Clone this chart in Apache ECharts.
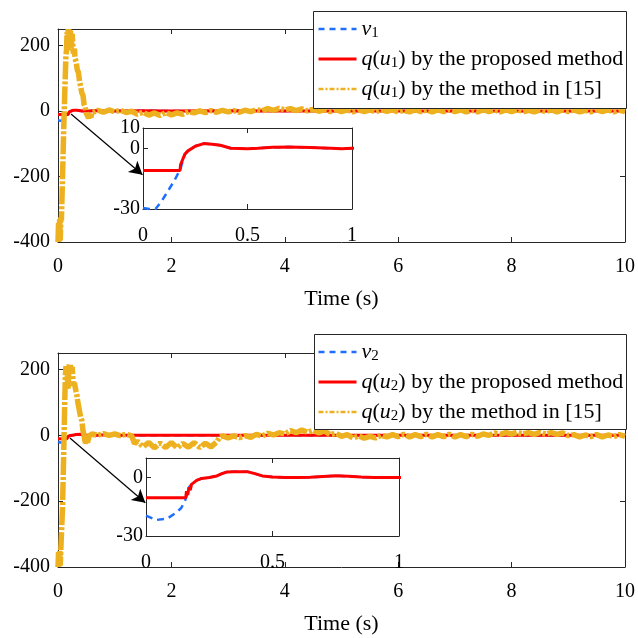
<!DOCTYPE html>
<html>
<head>
<meta charset="utf-8">
<script src="https://cdn.jsdelivr.net/npm/echarts@6/dist/echarts.min.js"></script>
<style>html,body{margin:0;padding:0;background:#fff}#c{width:638px;height:638px}</style>
</head>
<body>
<div id="c"></div>
<script>
// ---------------- data ([time, value]) ----------------
const V1 = [[0,-29.5],[0.03,-30],[0.06,-30],[0.09,-26],[0.12,-21],[0.15,-16],[0.18,-10],[0.2,-3],[0.215,-1.3],[0.25,1],[0.29,2.3],[0.33,2],[0.37,1.5],[0.42,0],[0.5,-0.3],[0.55,0],[0.62,0.5],[0.7,0.6],[0.8,0.4],[0.9,0],[0.95,-0.2],[1,0],[1.5,0.3],[2,0],[3,0.2],[4,-0.1],[5,0.1],[6,0],[7,0.1],[8,0],[9,0],[10,0]];
const Q1_PROPOSED = [[0,-11],[0.177,-11],[0.18,-8],[0.2,-3],[0.215,-1.3],[0.25,1],[0.29,2.3],[0.33,2],[0.37,1.5],[0.42,0],[0.5,-0.3],[0.55,0],[0.62,0.5],[0.7,0.6],[0.8,0.4],[0.9,0],[0.95,-0.2],[1,0],[1.5,0.3],[2,0],[3,0.2],[4,-0.1],[5,0.1],[6,0],[7,0.1],[8,0],[9,0],[10,0]];
const Q1_REF15 = [[0,-400],[0.01,-340],[0.02,-398],[0.03,-330],[0.04,-395],[0.05,-325],[0.06,-335],[0.08,-200],[0.1,-60],[0.12,60],[0.14,170],[0.15,185],[0.16,240],[0.17,185],[0.18,250],[0.19,195],[0.2,248],[0.21,200],[0.22,245],[0.23,190],[0.25,235],[0.27,175],[0.29,190],[0.3,160],[0.32,150],[0.34,125],[0.36,118],[0.38,90],[0.4,85],[0.42,55],[0.44,48],[0.46,20],[0.48,12],[0.5,-8],[0.52,-14],[0.54,-22],[0.56,-10],[0.58,-20],[0.6,-4],[0.65,-2],
 [0.7,2],[0.8,-4],[0.9,3],[1.0,-3],[1.1,2],[1.2,-5],[1.3,-1],[1.4,-10],[1.5,-4],[1.6,-13],[1.7,-6],[1.8,-14],[1.9,-5],[2.0,-12],[2.1,-6],[2.2,-10],[2.3,-2],[2.4,-6],[2.5,0],[2.6,-5],[2.7,1],[2.8,-4],[2.9,2],[3.0,-3],[3.1,1],[3.2,-4],[3.3,2],[3.4,-2],[3.5,4],[3.6,0],[3.7,7],[3.8,2],[3.9,8],[4.0,3],[4.1,7],[4.2,1],[4.3,6],[4.4,0],[4.5,5],[4.6,-1],[4.7,4],[4.8,-2],[4.9,4],[5.0,-2],[5.1,3],[5.2,-3],[5.3,4],[5.4,-2],[5.5,3],[5.6,-3],[5.7,4],[5.8,-1],[5.9,3],[6.0,-3],[6.1,2],[6.2,-3],[6.3,4],[6.4,-2],[6.5,3],[6.6,-3],[6.7,3],[6.8,-2],[6.9,4],[7.0,-2],[7.1,3],[7.2,-3],[7.3,2],[7.4,-3],[7.5,4],[7.6,-2],[7.7,3],[7.8,-3],[7.9,3],[8.0,-2],[8.1,4],[8.2,-3],[8.3,2],[8.4,-3],[8.5,3],[8.6,-2],[8.7,4],[8.8,-3],[8.9,3],[9.0,-2],[9.1,3],[9.2,-3],[9.3,2],[9.4,-3],[9.5,4],[9.6,-2],[9.7,3],[9.8,-3],[9.9,2],[10,-2]];

const V2 = [[0,-19.5],[0.04,-21.8],[0.085,-21],[0.12,-18],[0.14,-15.5],[0.157,-11],[0.17,-5],[0.18,-3.5],[0.2,-1.5],[0.22,-0.5],[0.25,0],[0.28,0.8],[0.3,2],[0.32,2.8],[0.35,3],[0.4,3],[0.43,2],[0.46,0.8],[0.5,0.2],[0.55,0],[0.6,0],[0.65,0.1],[0.7,0.5],[0.75,0.9],[0.8,0.6],[0.85,0.2],[0.9,0],[1,0],[1.5,0],[2,0.1],[3,0],[4,0.1],[5,0],[6,0],[7,0.1],[8,0],[9,0],[10,0]];
const Q2_PROPOSED = [[0,-10.4],[0.157,-10.4],[0.16,-7],[0.165,-9],[0.17,-5],[0.175,-6.5],[0.18,-3.5],[0.2,-1.5],[0.22,-0.5],[0.25,0],[0.28,0.8],[0.3,2],[0.32,2.8],[0.35,3],[0.4,3],[0.43,2],[0.46,0.8],[0.5,0.2],[0.55,0],[0.6,0],[0.65,0.1],[0.7,0.5],[0.75,0.9],[0.8,0.6],[0.85,0.2],[0.9,0],[1,0],[1.5,0],[2,0.1],[3,0],[4,0.1],[5,0],[6,0],[7,0.1],[8,0],[9,0],[10,0]];
const Q2_REF15 = [[0,-400],[0.01,-355],[0.02,-398],[0.03,-350],[0.04,-395],[0.05,-345],[0.06,-350],[0.08,-220],[0.1,-60],[0.12,110],[0.13,180],[0.14,210],[0.15,195],[0.16,212],[0.17,150],[0.18,140],[0.19,205],[0.2,215],[0.21,200],[0.22,213],[0.23,198],[0.25,208],[0.27,150],[0.29,160],[0.31,140],[0.33,125],[0.35,100],[0.37,95],[0.4,55],[0.42,45],[0.44,15],[0.46,0],[0.48,-25],[0.5,-12],[0.52,-22],[0.55,-2],
 [0.6,4],[0.7,0],[0.8,5],[0.9,0],[1.0,4],[1.1,-1],[1.2,3],[1.3,-2],[1.35,-25],[1.4,-18],[1.5,-35],[1.6,-22],[1.7,-38],[1.8,-24],[1.9,-37],[2.0,-22],[2.1,-38],[2.2,-25],[2.3,-36],[2.4,-22],[2.5,-37],[2.6,-24],[2.7,-35],[2.8,-20],[2.85,-6],[2.9,-2],[3.0,-8],[3.1,-2],[3.2,-7],[3.3,-1],[3.4,-6],[3.5,3],[3.6,-2],[3.7,6],[3.8,1],[3.9,8],[4.0,4],[4.1,14],[4.2,8],[4.3,16],[4.4,9],[4.5,15],[4.6,7],[4.7,13],[4.8,2],[4.9,6],[5.0,-3],[5.1,2],[5.2,-8],[5.3,-2],[5.4,-9],[5.5,-3],[5.6,-8],[5.7,0],[5.8,-5],[5.9,2],[6.0,-4],[6.1,3],[6.2,-5],[6.3,2],[6.4,-4],[6.5,3],[6.6,-5],[6.7,2],[6.8,-4],[6.9,3],[7.0,-5],[7.1,2],[7.2,-4],[7.3,3],[7.4,-3],[7.5,4],[7.6,0],[7.7,7],[7.8,3],[7.9,8],[8.0,4],[8.1,9],[8.2,4],[8.3,8],[8.4,3],[8.5,9],[8.6,4],[8.7,8],[8.8,3],[8.9,7],[9.0,-1],[9.1,2],[9.2,-5],[9.3,1],[9.4,-4],[9.5,2],[9.6,-5],[9.7,1],[9.8,-4],[9.9,2],[10,-3]];

// tick values
const MAIN_X_TICKS = [0, 2, 4, 6, 8, 10];
const MAIN_Y_TICKS = [-400, -200, 0, 200];
const INSET_X_TICKS = [0, 0.5, 1];
const INSET_Y_TICKS = [-30, 0, 10];

// arrow endpoints (data coords of main axes)
const ARROW_TOP = [[0.23, -9.5], [1.49, -195]];
const ARROW_BOTTOM = [[0.21, -8], [1.54, -205]];

// legend texts
const LEGEND_TOP = {
  v1: '{i|v}{s|1}',
  q1p: '{i|q}{n|(}{i|u}{s|1}{n|) by the proposed method}',
  q1m: '{i|q}{n|(}{i|u}{s|1}{n|) by the method in [15]}'
};
const LEGEND_BOTTOM = {
  v2: '{i|v}{s|2}',
  q2p: '{i|q}{n|(}{i|u}{s|2}{n|) by the proposed method}',
  q2m: '{i|q}{n|(}{i|u}{s|2}{n|) by the method in [15]}'
};

// ---------------- styling ----------------
const FONT = 'Liberation Serif';
const AX = '#262626';
const BLUE = '#1f6fff', RED = '#ff0000', ORANGE = '#EDB120';

function axes(g, xr, xt, yr, yt, xMargin, yMargin, xName) {
  const line = {show: true, onZero: false, lineStyle: {color: AX, width: 1}};
  const lab = {fontFamily: FONT, fontSize: 20, color: '#000', hideOverlap: false};
  const xs = [
    {type: 'value', gridIndex: g, min: xr[0], max: xr[1], position: 'bottom',
     axisLine: line, splitLine: {show: false},
     axisTick: {show: true, inside: true, length: 5, customValues: xt, lineStyle: {color: AX}},
     axisLabel: Object.assign({customValues: xt, margin: xMargin}, lab),
     name: xName || '', nameLocation: 'middle', nameGap: 46,
     nameTextStyle: {fontFamily: FONT, fontSize: 22, color: '#000'}},
    {type: 'value', gridIndex: g, min: xr[0], max: xr[1], position: 'top',
     axisLine: line, splitLine: {show: false},
     axisTick: {show: true, inside: true, length: 5, customValues: xt, lineStyle: {color: AX}},
     axisLabel: {show: false}}
  ];
  const ys = [
    {type: 'value', gridIndex: g, min: yr[0], max: yr[1], position: 'left',
     axisLine: line, splitLine: {show: false},
     axisTick: {show: true, inside: true, length: 5, customValues: yt, lineStyle: {color: AX}},
     axisLabel: Object.assign({customValues: yt, margin: yMargin}, lab)},
    {type: 'value', gridIndex: g, min: yr[0], max: yr[1], position: 'right',
     axisLine: line, splitLine: {show: false},
     axisTick: {show: true, inside: true, length: 5, customValues: yt, lineStyle: {color: AX}},
     axisLabel: {show: false}}
  ];
  return [xs, ys];
}

const xAxis = [], yAxis = [];
[
  axes(0, [0, 10], MAIN_X_TICKS, [-400, 250], MAIN_Y_TICKS, 15, 8, 'Time (s)'),
  axes(1, [0, 1], INSET_X_TICKS, [-30, 10], INSET_Y_TICKS, 17, 3),
  axes(2, [0, 10], MAIN_X_TICKS, [-400, 250], MAIN_Y_TICKS, 15, 8, 'Time (s)'),
  axes(3, [0, 1], INSET_X_TICKS, [-30, 10], INSET_Y_TICKS, 17, 3)
].forEach(([xs, ys]) => { xAxis.push(...xs); yAxis.push(...ys); });

function line(name, g, data, color, width, type, z, extra) {
  return Object.assign({
    name, type: 'line', xAxisIndex: 2 * g, yAxisIndex: 2 * g, data,
    symbol: 'none', showSymbol: false, animation: false, z,
    lineStyle: {color, width, type}, itemStyle: {color}
  }, extra || {});
}
function arrow(pts) {
  return {
    silent: true, symbol: ['none', 'arrow'], symbolSize: [11, 13], animation: false,
    label: {show: false}, lineStyle: {color: '#000', width: 1.2, type: 'solid'},
    data: [[{coord: pts[0]}, {coord: pts[1]}]]
  };
}
const DASH = [7, 5];
const DASHDOT = [18, 2, 3, 2];

const series = [
  line('v1', 0, V1, BLUE, 2.5, DASH, 3),
  line('q1p', 0, Q1_PROPOSED, RED, 3, 'solid', 4),
  line('q1m', 0, Q1_REF15, ORANGE, 5.5, DASHDOT, 5, {markLine: arrow(ARROW_TOP)}),
  line('v1 inset', 1, V1, BLUE, 2.5, DASH, 3),
  line('q1p inset', 1, Q1_PROPOSED, RED, 3, 'solid', 4),
  line('v2', 2, V2, BLUE, 2.5, DASH, 3),
  line('q2p', 2, Q2_PROPOSED, RED, 3, 'solid', 4),
  line('q2m', 2, Q2_REF15, ORANGE, 5.5, DASHDOT, 5, {markLine: arrow(ARROW_BOTTOM)}),
  line('v2 inset', 3, V2, BLUE, 2.5, DASH, 3),
  line('q2p inset', 3, Q2_PROPOSED, RED, 3, 'solid', 4)
];

const rich = {
  n: {fontFamily: FONT, fontSize: 22, color: '#000'},
  i: {fontFamily: FONT, fontSize: 22, color: '#000', fontStyle: 'italic'},
  s: {fontFamily: FONT, fontSize: 15, color: '#000', padding: [9, 0, 0, 0]}
};
const LEGEND_LINE = [
  {width: 2.5, type: [6, 5]},
  {width: 3, type: 'solid'},
  {width: 2.5, type: [5, 2, 2, 2]}
];
const HIDDEN_SYMBOL = {color: 'rgba(0,0,0,0)', borderWidth: 0, opacity: 0};
function legend(map, top) {
  const names = Object.keys(map);
  return {
    orient: 'vertical', left: 317, top: top, padding: 0,
    itemWidth: 38, itemHeight: 14, itemGap: 7, selectedMode: false, z: 60,
    data: names.map((n, k) => ({name: n, lineStyle: LEGEND_LINE[k], itemStyle: HIDDEN_SYMBOL})),
    formatter: n => map[n],
    textStyle: {fontFamily: FONT, fontSize: 22, color: '#000', rich: rich}
  };
}

const option = {
  backgroundColor: '#fff',
  animation: false,
  grid: [
    {left: 58, top: 29, width: 570, height: 213},
    {left: 143, top: 128, width: 209, height: 81, show: true, backgroundColor: '#fff', borderWidth: 0},
    {left: 58, top: 353, width: 570, height: 214},
    {left: 146, top: 458, width: 253, height: 78, show: true, backgroundColor: '#fff', borderWidth: 0}
  ],
  xAxis: xAxis, yAxis: yAxis, series: series,
  legend: [legend(LEGEND_TOP, 18), legend(LEGEND_BOTTOM, 341)],
  graphic: [
    {type: 'rect', z: 50, shape: {x: 313.5, y: 11.5, width: 313, height: 97},
     style: {fill: '#fff', stroke: AX, lineWidth: 1}},
    {type: 'rect', z: 50, shape: {x: 314.5, y: 334.5, width: 312, height: 95},
     style: {fill: '#fff', stroke: AX, lineWidth: 1}}
  ]
};

const chart = echarts.init(document.getElementById('c'), null, {renderer: 'canvas'});
chart.setOption(option);
</script>
</body>
</html>
